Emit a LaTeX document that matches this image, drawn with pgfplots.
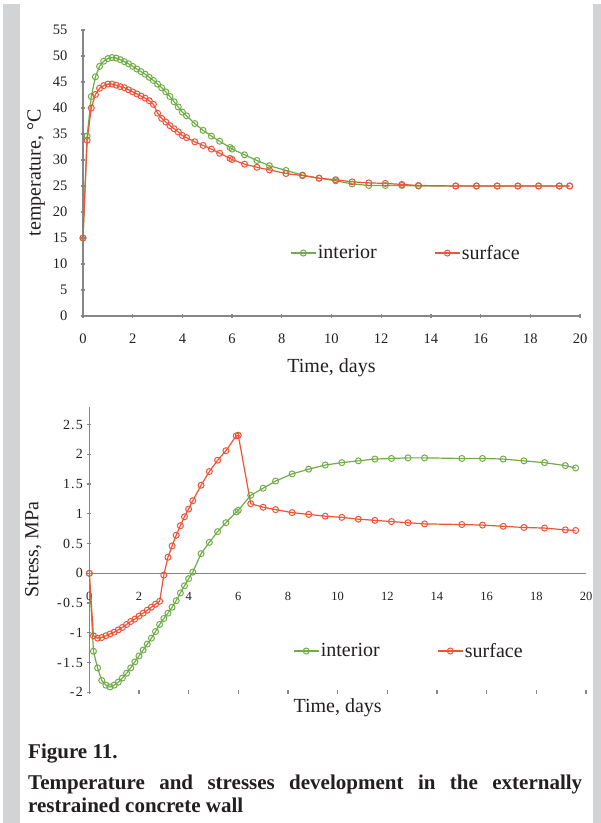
\documentclass[border=0pt]{standalone}
\usepackage{pgfplots}
\pgfplotsset{compat=1.18}
\usepackage{fontspec}
\setmainfont{Liberation Serif}
\definecolor{grn}{RGB}{112,173,71}
\definecolor{rd}{RGB}{238,84,56}
\definecolor{axgray}{RGB}{134,134,134}
\definecolor{bargray}{RGB}{209,211,212}
\definecolor{txt}{RGB}{35,31,32}

\pgfplotstableread{
t T
0 15
0.167 34.6
0.333 42.2
0.5 46.0
0.667 48.0
0.833 49.0
1.0 49.5
1.167 49.7
1.333 49.6
1.5 49.3
1.667 48.9
1.833 48.5
2.0 48.0
2.167 47.5
2.333 47.0
2.5 46.5
2.667 45.9
2.833 45.3
3.0 44.6
3.167 43.9
3.333 43.1
3.5 42.2
3.667 41.2
3.833 40.2
4.0 39.2
4.167 38.5
4.5 37.0
4.833 35.7
5.167 34.6
5.5 33.6
5.917 32.4
6.0 32.1
6.5 31.0
7.0 29.9
7.5 28.9
8.167 28.0
8.833 27.1
9.5 26.5
10.167 26.0
10.833 25.4
11.5 25.1
12.167 25.1
12.833 25.1
13.5 25.0
15.0 25.0
15.833 25.0
16.667 25.0
17.5 25.0
18.333 25.0
19.167 25.0
19.583 25.0
}\tint
\pgfplotstableread{
t T
0 15.0
0.167 33.8
0.333 40.0
0.5 42.6
0.667 43.8
0.833 44.3
1.0 44.6
1.167 44.6
1.333 44.4
1.5 44.1
1.667 43.9
1.833 43.5
2.0 43.1
2.167 42.7
2.333 42.3
2.5 41.9
2.667 41.4
2.833 40.7
3.0 39.0
3.167 38.0
3.333 37.3
3.5 36.6
3.667 36.0
3.833 35.4
4.0 34.7
4.167 34.3
4.5 33.5
4.833 32.8
5.167 32.1
5.5 31.3
5.917 30.3
6.0 30.1
6.5 29.2
7.0 28.6
7.5 28.1
8.167 27.4
8.833 27.0
9.5 26.5
10.167 26.2
10.833 25.8
11.5 25.6
12.167 25.5
12.833 25.3
13.5 25.1
15.0 25.0
15.833 25.0
16.667 25.0
17.5 25.0
18.333 25.0
19.167 25.0
19.583 25.0
}\tsurf
\pgfplotstableread{
t S
0 0
0.167 -1.31
0.333 -1.59
0.5 -1.80
0.667 -1.88
0.833 -1.91
1.0 -1.88
1.167 -1.83
1.333 -1.76
1.5 -1.68
1.667 -1.59
1.833 -1.49
2.0 -1.39
2.167 -1.29
2.333 -1.19
2.5 -1.09
2.667 -0.98
2.833 -0.86
3.0 -0.76
3.167 -0.67
3.333 -0.57
3.5 -0.46
3.667 -0.33
3.833 -0.21
4.0 -0.09
4.167 0.02
4.5 0.33
4.833 0.52
5.167 0.70
5.5 0.85
5.917 1.03
6.0 1.06
6.5 1.31
7.0 1.43
7.5 1.55
8.167 1.67
8.833 1.75
9.5 1.82
10.167 1.86
10.833 1.89
11.5 1.92
12.167 1.93
12.833 1.94
13.5 1.94
15.0 1.93
15.833 1.93
16.667 1.92
17.5 1.89
18.333 1.86
19.167 1.81
19.583 1.77
}\sint
\pgfplotstableread{
t S
0 0
0.167 -1.05
0.333 -1.09
0.5 -1.08
0.667 -1.05
0.833 -1.02
1.0 -0.99
1.167 -0.95
1.333 -0.91
1.5 -0.86
1.667 -0.81
1.833 -0.77
2.0 -0.72
2.167 -0.67
2.333 -0.62
2.5 -0.57
2.667 -0.52
2.833 -0.47
3.0 -0.03
3.167 0.27
3.333 0.46
3.5 0.64
3.667 0.80
3.833 0.95
4.0 1.08
4.167 1.22
4.5 1.48
4.833 1.71
5.167 1.90
5.5 2.06
5.917 2.31
6.0 2.32
6.5 1.17
7.0 1.11
7.5 1.07
8.167 1.02
8.833 0.99
9.5 0.96
10.167 0.94
10.833 0.91
11.5 0.89
12.167 0.87
12.833 0.85
13.5 0.83
15.0 0.82
15.833 0.81
16.667 0.79
17.5 0.77
18.333 0.76
19.167 0.73
19.583 0.72
}\ssurf

\pgfplotsset{
  mystyle/.style={
    scale only axis,
    axis line style={axgray, line width=1.2pt, -},
    tick style={axgray, line width=1.2pt},
    major tick length=4pt,
    tick align=outside,
    xtick pos=left, ytick pos=left,
    tick label style={font=\fontsize{14.5}{17}\selectfont, text=txt},
    /pgf/number format/assume math mode=true,
    xmin=0, xmax=20,
    xtick={0,2,...,20},
    legend columns=2,
    legend image code/.code={\draw[mark repeat=2,mark phase=2] plot coordinates {(0pt,0pt) (12.5pt,0pt) (25pt,0pt)};},
    legend style={draw=none, fill=none, inner sep=0pt, font=\fontsize{20}{24}\selectfont, text=txt,
      nodes={inner sep=1.5pt}, /tikz/every even column/.append style={column sep=56pt}},
  },
  noarrows/.style={
    every inner x axis line/.append style={-},
    every outer x axis line/.append style={-},
    every inner y axis line/.append style={-},
    every outer y axis line/.append style={-},
  },
  gser/.style={grn, line width=1.2pt, mark=o, mark size=3pt, mark options={line width=1pt, fill=none}},
  rser/.style={rd, line width=1.2pt, mark=o, mark size=3pt, mark options={line width=1pt, fill=none}},
}

\begin{document}
\begin{tikzpicture}
\useasboundingbox (0pt,0pt) rectangle (601pt,823pt);
\fill[white] (0pt,0pt) rectangle (601pt,823pt);

\begin{axis}[mystyle,
  at={(83pt,507pt)}, anchor=south west,
  width=497pt, height=286pt,
  axis x line=bottom, axis y line=left, noarrows,
  ymin=0, ymax=55, ytick={0,5,...,55},
  xticklabel style={yshift=-12pt},
  yticklabel style={xshift=-10pt},
  xlabel={Time, days},
  ylabel={temperature, °C},
  every axis x label/.style={at={(axis description cs:0.5,-0.182)}, anchor=center, font=\fontsize{20}{24}\selectfont, text=txt},
  every axis y label/.style={at={(axis description cs:-0.0946,0.5)}, rotate=90, anchor=center, font=\fontsize{20}{24}\selectfont, text=txt},
  legend style={at={(axis cs:8.33,12.1)}, anchor=west},
]
\addplot[gser] table[x=t,y=T] {\tint};
\addplot[rser] table[x=t,y=T] {\tsurf};
\legend{interior, surface}
\end{axis}

\begin{axis}[mystyle,
  at={(89.3pt,130.7pt)}, anchor=south west,
  width=496.7pt, height=285.6pt,
  axis x line=middle, axis y line=left, noarrows,
  hide obscured x ticks=false, hide obscured y ticks=false,
  ymin=-2, ymax=2.8, ytick={-2,-1.5,...,2.5},
  xticklabel style={yshift=-13pt, font=\fontsize{12.5}{15}\selectfont},
  yticklabel style={/pgf/number format/fixed, xshift=-1pt, font=\fontsize{14}{16}\selectfont\addfontfeature{LetterSpace=8}},
  xlabel={Time, days},
  ylabel={Stress, MPa},
  every axis x label/.style={at={(axis description cs:0.5,-0.055)}, anchor=center, font=\fontsize{20}{24}\selectfont, text=txt},
  every axis y label/.style={at={(axis description cs:-0.113,0.5)}, rotate=90, anchor=center, font=\fontsize{20}{24}\selectfont, text=txt},
  legend style={at={(axis cs:8.2,-1.306)}, anchor=west},
]
\addplot[gser] table[x=t,y=S] {\sint};
\addplot[rser] table[x=t,y=S] {\ssurf};
\legend{interior, surface}
\end{axis}

\fill[bargray] (3pt,0pt) rectangle (20pt,819pt);
\fill[bargray] (593pt,0pt) rectangle (601pt,819pt);

\node[anchor=base west, inner sep=0pt, font=\fontsize{21}{25}\selectfont\bfseries, text=txt] at (28pt,64pt) {Figure 11.};
\node[anchor=base west, inner sep=0pt, font=\fontsize{21}{25}\selectfont\bfseries, text=txt] at (28pt,34pt) {\makebox[554pt][s]{Temperature and stresses development in the externally}};
\node[anchor=base west, inner sep=0pt, font=\fontsize{21}{25}\selectfont\bfseries, text=txt] at (28pt,10pt) {restrained concrete wall};
\end{tikzpicture}
\end{document}
